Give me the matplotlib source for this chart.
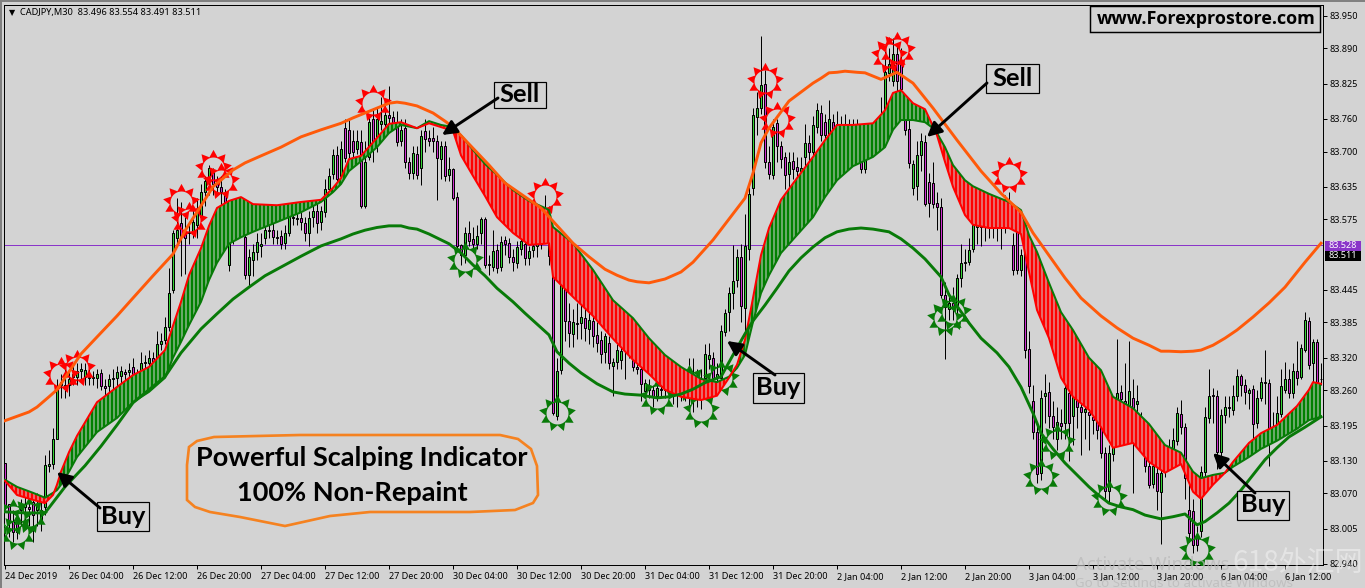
import matplotlib
matplotlib.use('Agg')
import matplotlib.pyplot as plt
import numpy as np
from matplotlib.markers import MarkerStyle
from matplotlib.patches import Polygon, Rectangle
from matplotlib.path import Path

W, H, DPI = 1365, 588, 96
PANEL = '#d3d3d3'

# 30 minute candles, one row per 8 hours
opens = [
    83.126,83.05,83.02,83.02,83.04,83.045,83.045,83.055,83.04,83.015,83.045,83.12,83.125,83.17,83.27,83.27,
    83.27,83.285,83.285,83.295,83.285,83.285,83.282,83.283,83.291,83.267,83.268,83.28,83.283,83.287,83.293,83.293,
    83.303,83.285,83.294,83.31,83.31,83.32,83.315,83.345,83.352,83.376,83.445,83.54,83.568,83.55,83.55,83.552,
    83.565,83.58,83.625,83.645,83.662,83.64,83.635,83.62,83.49,83.545,83.56,83.575,83.542,83.472,83.50,83.515,
    83.525,83.54,83.553,83.556,83.543,83.545,83.532,83.55,83.58,83.578,83.578,83.568,83.55,83.58,83.59,83.57,
    83.588,83.63,83.658,83.693,83.655,83.743,83.74,83.72,83.705,83.717,83.60,83.69,83.76,83.715,83.75,83.75,
    83.768,83.763,83.755,83.72,83.743,83.68,83.66,83.696,83.67,83.737,83.725,83.725,83.72,83.686,83.71,83.657,
    83.667,83.617,83.528,83.51,83.55,83.538,83.53,83.55,83.575,83.493,83.488,83.518,83.488,83.537,83.532,83.505,
    83.494,83.52,83.53,83.503,83.518,83.525,83.53,83.56,83.53,83.505,83.213,83.298,83.463,83.387,83.364,83.384,
    83.384,83.394,83.373,83.387,83.362,83.353,83.33,83.347,83.305,83.313,83.316,83.335,83.335,83.32,83.303,83.30,
    83.258,83.265,83.26,83.25,83.262,83.26,83.262,83.255,83.26,83.27,83.262,83.25,83.255,83.27,83.275,83.282,
    83.317,83.32,83.283,83.282,83.368,83.405,83.44,83.463,83.506,83.411,83.52,83.632,83.763,83.78,83.825,83.68,
    83.657,83.752,83.71,83.689,83.658,83.682,83.672,83.665,83.69,83.715,83.70,83.746,83.771,83.755,83.733,83.755,
    83.74,83.75,83.745,83.75,83.74,83.745,83.71,83.668,83.72,83.73,83.735,83.73,83.764,83.845,83.83,83.88,
    83.865,83.764,83.742,83.633,83.636,83.693,83.717,83.644,83.642,83.605,83.598,83.435,83.41,83.42,83.417,83.466,
    83.494,83.497,83.52,83.56,83.565,83.56,83.565,83.56,83.568,83.565,83.57,83.58,83.527,83.562,83.482,83.535,
    83.336,83.24,83.184,83.108,83.25,83.257,83.212,83.17,83.20,83.20,83.255,83.212,83.26,83.23,83.22,83.22,
    83.21,83.205,83.194,83.144,83.074,83.143,83.23,83.256,83.24,83.225,83.245,83.235,83.20,83.138,83.12,83.088,
    83.107,83.072,83.125,83.14,83.15,83.166,83.217,83.193,83.04,83.037,82.991,83.0,83.11,83.208,83.252,83.25,
    83.146,83.215,83.23,83.224,83.25,83.287,83.27,83.255,83.262,83.20,83.246,83.275,83.273,83.19,83.19,83.217,
    83.261,83.28,83.255,83.296,83.285,83.335,83.387,83.31,83.349,83.28,
]
highs = [
    83.126,83.05,83.04,83.03,83.06,83.07,83.06,83.07,83.07,83.06,83.14,83.15,83.19,83.28,83.29,83.30,
    83.30,83.31,83.31,83.31,83.31,83.30,83.295,83.30,83.30,83.28,83.29,83.30,83.305,83.305,83.30,83.31,
    83.32,83.30,83.33,83.325,83.335,83.33,83.37,83.365,83.395,83.485,83.555,83.615,83.607,83.58,83.57,83.60,
    83.615,83.64,83.655,83.675,83.67,83.655,83.655,83.63,83.56,83.59,83.59,83.59,83.56,83.52,83.53,83.55,
    83.55,83.57,83.57,83.57,83.555,83.555,83.565,83.60,83.595,83.59,83.595,83.58,83.59,83.605,83.61,83.60,
    83.65,83.67,83.705,83.71,83.72,83.76,83.76,83.74,83.74,83.74,83.72,83.77,83.78,83.78,83.80,83.79,
    83.82,83.775,83.775,83.76,83.76,83.69,83.71,83.71,83.74,83.76,83.74,83.745,83.73,83.72,83.72,83.69,
    83.67,83.625,83.53,83.56,83.572,83.56,83.565,83.58,83.58,83.51,83.555,83.53,83.545,83.545,83.54,83.52,
    83.535,83.55,83.54,83.525,83.54,83.57,83.58,83.62,83.60,83.51,83.32,83.48,83.475,83.42,83.41,83.42,
    83.42,83.425,83.41,83.41,83.385,83.37,83.365,83.36,83.32,83.345,83.345,83.35,83.345,83.33,83.32,83.31,
    83.28,83.28,83.27,83.275,83.275,83.27,83.275,83.27,83.30,83.29,83.295,83.32,83.32,83.30,83.30,83.345,
    83.347,83.33,83.31,83.38,83.41,83.45,83.527,83.52,83.53,83.584,83.635,83.78,83.81,83.912,83.85,83.71,
    83.76,83.76,83.72,83.70,83.70,83.70,83.69,83.69,83.75,83.73,83.765,83.79,83.785,83.77,83.795,83.77,
    83.775,83.765,83.77,83.76,83.76,83.76,83.73,83.73,83.745,83.75,83.755,83.80,83.89,83.89,83.91,83.90,
    83.89,83.80,83.76,83.685,83.72,83.735,83.73,83.66,83.68,83.625,83.615,83.46,83.44,83.45,83.475,83.53,
    83.52,83.54,83.58,83.58,83.58,83.575,83.58,83.58,83.585,83.585,83.62,83.625,83.55,83.58,83.52,83.54,
    83.37,83.27,83.20,83.26,83.29,83.275,83.24,83.23,83.225,83.28,83.28,83.27,83.27,83.25,83.24,83.24,
    83.24,83.235,83.21,83.155,83.16,83.20,83.355,83.27,83.31,83.35,83.28,83.27,83.22,83.16,83.13,83.14,
    83.13,83.12,83.16,83.17,83.19,83.23,83.242,83.20,83.10,83.06,83.01,83.12,83.23,83.30,83.265,83.26,
    83.225,83.25,83.25,83.27,83.30,83.29,83.28,83.265,83.27,83.26,83.285,83.335,83.28,83.22,83.25,83.30,
    83.313,83.30,83.31,83.35,83.345,83.405,83.395,83.355,83.355,83.31,
]
lows = [
    83.04,82.99,82.98,82.985,83.01,83.02,83.01,82.98,83.01,83.0,83.03,83.11,83.115,83.17,83.245,83.245,
    83.25,83.27,83.27,83.28,83.27,83.27,83.27,83.265,83.26,83.25,83.255,83.26,83.265,83.27,83.275,83.28,
    83.27,83.26,83.28,83.295,83.295,83.30,83.30,83.335,83.345,83.37,83.44,83.53,83.47,83.475,83.53,83.54,
    83.54,83.575,83.60,83.62,83.62,83.62,83.60,83.58,83.48,83.53,83.55,83.55,83.465,83.45,83.47,83.50,
    83.505,83.53,83.54,83.53,83.53,83.52,83.52,83.545,83.565,83.565,83.555,83.535,83.525,83.56,83.55,83.555,
    83.58,83.62,83.65,83.64,83.645,83.68,83.685,83.69,83.695,83.595,83.595,83.685,83.68,83.70,83.74,83.74,
    83.75,83.74,83.71,83.71,83.67,83.65,83.65,83.65,83.638,83.70,83.71,83.70,83.61,83.65,83.645,83.645,
    83.61,83.52,83.49,83.495,83.525,83.515,83.52,83.53,83.485,83.472,83.48,83.477,83.48,83.51,83.495,83.48,
    83.485,83.51,83.49,83.49,83.505,83.505,83.52,83.55,83.49,83.215,83.205,83.29,83.35,83.34,83.34,83.355,
    83.355,83.35,83.345,83.34,83.33,83.31,83.31,83.30,83.25,83.30,83.30,83.28,83.32,83.295,83.29,83.24,
    83.25,83.245,83.23,83.24,83.25,83.245,83.25,83.235,83.23,83.24,83.24,83.23,83.22,83.23,83.225,83.28,
    83.30,83.27,83.27,83.275,83.36,83.37,83.41,83.45,83.385,83.36,83.50,83.62,83.73,83.77,83.67,83.65,
    83.65,83.68,83.67,83.63,83.62,83.65,83.655,83.65,83.665,83.68,83.69,83.735,83.72,83.70,83.72,83.72,
    83.725,83.73,83.72,83.72,83.70,83.68,83.66,83.66,83.71,83.72,83.72,83.71,83.755,83.83,83.82,83.81,
    83.79,83.73,83.67,83.62,83.61,83.665,83.60,83.58,83.595,83.555,83.43,83.317,83.39,83.39,83.40,83.45,
    83.48,83.49,83.515,83.53,83.525,83.535,83.54,83.54,83.535,83.52,83.55,83.56,83.472,83.475,83.47,83.32,
    83.255,83.17,83.09,83.095,83.20,83.19,83.17,83.15,83.17,83.17,83.13,83.16,83.19,83.14,83.17,83.15,
    83.18,83.17,83.135,83.06,83.055,83.13,83.215,83.22,83.21,83.21,83.07,83.21,83.17,83.11,83.08,83.08,
    83.04,82.976,83.10,83.12,83.13,83.16,83.18,83.06,82.98,82.96,82.963,82.99,83.10,83.20,83.20,83.115,
    83.12,83.20,83.21,83.215,83.24,83.25,83.235,83.225,83.17,83.19,83.24,83.235,83.12,83.17,83.18,83.21,
    83.255,83.245,83.245,83.27,83.28,83.33,83.30,83.27,83.27,83.27,
]
closes = [
    83.049,83.017,82.999,82.998,83.045,83.05,83.042,83.03,83.05,83.04,83.122,83.125,83.17,83.265,83.275,83.265,
    83.28,83.29,83.295,83.30,83.298,83.283,83.284,83.29,83.267,83.265,83.28,83.283,83.293,83.295,83.29,83.298,
    83.288,83.287,83.31,83.312,83.32,83.31,83.345,83.35,83.376,83.44,83.55,83.555,83.545,83.54,83.552,83.57,
    83.59,83.625,83.645,83.67,83.64,83.635,83.625,83.605,83.545,83.56,83.575,83.57,83.472,83.505,83.515,83.533,
    83.53,83.555,83.555,83.543,83.541,83.53,83.55,83.583,83.578,83.575,83.57,83.55,83.578,83.59,83.568,83.59,
    83.63,83.655,83.693,83.65,83.705,83.688,83.697,83.70,83.72,83.60,83.68,83.755,83.71,83.76,83.757,83.767,
    83.762,83.752,83.718,83.74,83.68,83.66,83.698,83.657,83.728,83.723,83.72,83.72,83.688,83.71,83.654,83.667,
    83.614,83.525,83.51,83.55,83.536,83.53,83.545,83.575,83.491,83.49,83.517,83.485,83.534,83.53,83.505,83.496,
    83.524,83.536,83.503,83.517,83.526,83.53,83.56,83.58,83.507,83.218,83.295,83.467,83.387,83.365,83.386,83.383,
    83.395,83.375,83.389,83.36,83.347,83.327,83.36,83.31,83.313,83.335,83.332,83.335,83.33,83.303,83.30,83.272,
    83.273,83.26,83.25,83.264,83.26,83.262,83.265,83.26,83.27,83.265,83.255,83.26,83.27,83.275,83.27,83.327,
    83.325,83.282,83.29,83.37,83.403,83.44,83.462,83.506,83.415,83.526,83.622,83.768,83.781,83.823,83.68,83.658,
    83.745,83.71,83.687,83.656,83.68,83.668,83.665,83.67,83.716,83.70,83.748,83.777,83.73,83.73,83.76,83.735,
    83.75,83.745,83.75,83.74,83.745,83.72,83.668,83.72,83.73,83.735,83.74,83.76,83.847,83.862,83.88,83.83,
    83.816,83.74,83.678,83.677,83.693,83.72,83.604,83.606,83.604,83.598,83.435,83.414,83.42,83.415,83.466,83.494,
    83.496,83.518,83.565,83.57,83.56,83.565,83.56,83.568,83.565,83.57,83.58,83.585,83.482,83.482,83.51,83.335,
    83.267,83.184,83.106,83.246,83.255,83.212,83.193,83.202,83.195,83.264,83.20,83.25,83.23,83.22,83.225,83.215,
    83.205,83.187,83.144,83.074,83.144,83.165,83.255,83.243,83.235,83.258,83.165,83.24,83.19,83.12,83.086,83.12,
    83.074,83.107,83.14,83.145,83.169,83.218,83.193,83.098,82.997,82.974,82.975,83.11,83.21,83.249,83.25,83.146,
    83.215,83.229,83.228,83.25,83.287,83.269,83.256,83.26,83.198,83.246,83.276,83.273,83.187,83.185,83.218,83.267,
    83.28,83.255,83.295,83.282,83.338,83.39,83.307,83.349,83.276,83.28,
]

# slow envelope lines
upper_bars = [0,6,8,11,13,16,19,24,28,32,37,42,45,49,52,57,60,64,69,74,79,84,87,90,93,96,98,100,103,107,110,112,117,121,125,134,142,146,150,153,156,158,161,165,169,172,177,185,187,189,191,196,200,202,204,206,208,210,213,215,217,219,223,227,232,238,244,249,254,257,265,269,274,278,282,286,289,291,294,297,299,302,305,308,312,316,320,325,329]
upper_band = [83.204,83.22,83.229,83.248,83.261,83.294,83.327,83.366,83.397,83.43,83.471,83.511,83.554,83.60,83.635,83.666,83.679,83.692,83.708,83.727,83.74,83.752,83.762,83.771,83.78,83.789,83.791,83.789,83.784,83.771,83.756,83.745,83.706,83.675,83.642,83.596,83.531,83.506,83.483,83.472,83.463,83.46,83.458,83.465,83.478,83.496,83.537,83.614,83.66,83.716,83.743,83.793,83.815,83.826,83.835,83.845,83.846,83.848,83.846,83.845,83.839,83.833,83.846,83.826,83.78,83.721,83.664,83.623,83.588,83.55,83.467,83.43,83.397,83.375,83.356,83.343,83.332,83.332,83.331,83.332,83.334,83.343,83.356,83.371,83.395,83.421,83.45,83.496,83.531]
lower_bars = [0,5,10,15,20,24,28,32,36,40,44,49,53,57,61,65,70,74,79,84,87,90,93,96,99,101,103,106,111,114,117,120,123,127,130,133,136,138,141,144,148,152,155,159,163,166,169,172,175,179,182,185,187,190,193,196,199,202,205,208,211,214,217,221,224,227,230,234,236,241,244,248,251,254,257,259,262,265,268,271,273,276,279,282,285,289,292,295,298,300,303,306,309,312,315,318,321,325,329]
lower_band = [83.036,83.034,83.034,83.082,83.121,83.157,83.196,83.237,83.261,83.285,83.329,83.373,83.401,83.428,83.45,83.471,83.491,83.507,83.526,83.539,83.548,83.555,83.56,83.563,83.563,83.559,83.557,83.548,83.53,83.513,83.491,83.471,83.448,83.423,83.402,83.382,83.362,83.331,83.31,83.292,83.272,83.257,83.253,83.251,83.246,83.248,83.253,83.262,83.274,83.285,83.325,83.364,83.388,83.417,83.448,83.48,83.504,83.524,83.541,83.552,83.557,83.559,83.557,83.552,83.539,83.522,83.502,83.469,83.436,83.384,83.356,83.329,83.303,83.266,83.218,83.181,83.152,83.126,83.104,83.082,83.069,83.052,83.045,83.04,83.03,83.023,83.027,83.032,83.012,83.018,83.034,83.052,83.076,83.104,83.132,83.154,83.174,83.192,83.211]

# ribbon: red edge and green edge
ribbon_bars = [0,3,7,10,12,13,14,16,18,23,28,32,36,40,42,44,46,49,51,53,56,59,62,68,74,79,82,84,86,89,93,96,99,103,106,109,112,114,117,120,123,127,131,135,136,137,142,147,152,157,161,165,169,174,178,181,183,185,187,189,191,194,198,202,205,208,212,217,220,222,224,227,230,232,233,235,237,240,242,246,251,254,256,258,261,264,267,271,274,277,282,286,290,294,297,299,302,305,307,311,314,318,323,326,327,329]
ribbon_red = [83.093,83.067,83.058,83.052,83.067,83.086,83.110,83.146,83.176,83.238,83.266,83.288,83.303,83.334,83.379,83.423,83.472,83.522,83.563,83.596,83.609,83.616,83.603,83.601,83.607,83.611,83.633,83.651,83.686,83.692,83.725,83.751,83.754,83.743,83.752,83.745,83.738,83.693,83.655,83.618,83.579,83.550,83.528,83.530,83.531,83.469,83.432,83.397,83.355,83.316,83.290,83.261,83.248,83.242,83.250,83.283,83.307,83.353,83.430,83.509,83.559,83.611,83.651,83.690,83.721,83.749,83.749,83.752,83.776,83.808,83.813,83.789,83.778,83.747,83.730,83.681,83.635,83.583,83.565,83.559,83.559,83.548,83.478,83.408,83.356,83.283,83.248,83.224,83.192,83.154,83.163,83.128,83.108,83.124,83.073,83.060,83.086,83.108,83.128,83.163,83.181,83.196,83.231,83.261,83.275,83.272]
ribbon_green = [83.095,83.082,83.071,83.062,83.071,83.076,83.086,83.110,83.137,83.183,83.209,83.238,83.257,83.283,83.320,83.349,83.380,83.423,83.463,83.495,83.530,83.542,83.552,83.570,83.588,83.607,83.625,83.640,83.664,83.682,83.708,83.734,83.749,83.743,83.756,83.749,83.745,83.730,83.703,83.677,83.657,83.629,83.609,83.596,83.592,83.561,83.531,83.482,83.426,83.393,83.356,83.325,83.303,83.281,83.275,83.285,83.301,83.325,83.386,83.439,83.472,83.513,83.546,83.579,83.616,83.647,83.673,83.690,83.708,83.740,83.758,83.758,83.754,83.743,83.734,83.708,83.675,83.647,83.636,83.622,83.607,83.592,83.546,83.515,83.458,83.404,83.371,83.320,83.297,83.248,83.227,83.198,83.159,83.145,83.110,83.098,83.104,83.108,83.119,83.137,83.152,83.167,83.189,83.205,83.207,83.211]

# arrow signals
sell_bars = [14,18,44,46,52,54,92,135,190,193,221,223,251]
sell_prices = [83.288,83.301,83.607,83.574,83.670,83.646,83.789,83.618,83.830,83.758,83.878,83.887,83.657]
buy_bars = [3,2,6,115,138,163,174,179,171,235,237,259,263,276,298]
buy_prices = [82.999,83.027,83.030,83.500,83.218,83.248,83.224,83.283,83.274,83.393,83.404,83.100,83.165,83.062,82.966]

tick_bars = list(range(0, 321, 16))
time_labels = ['24 Dec 2019','26 Dec 04:00','26 Dec 12:00','26 Dec 20:00','27 Dec 04:00','27 Dec 12:00','27 Dec 20:00',
               '30 Dec 04:00','30 Dec 12:00','30 Dec 20:00','31 Dec 04:00','31 Dec 12:00','31 Dec 20:00','2 Jan 04:00',
               '2 Jan 12:00','2 Jan 20:00','3 Jan 04:00','3 Jan 12:00','3 Jan 20:00','6 Jan 04:00','6 Jan 12:00']
price_ticks = [83.950,83.890,83.825,83.760,83.700,83.635,83.575,83.445,83.385,83.320,83.260,83.195,83.130,83.070,83.005,82.940]

plt.rcParams['font.family'] = ['Noto Sans', 'DejaVu Sans']
plt.rcParams['hatch.linewidth'] = 0.75
plt.rcParams['hatch.color'] = PANEL


def sun_marker(spikes=9, inner=0.64, hole=0.59):
    # star outline with a round hole so the candles show through
    star = Path.unit_regular_star(spikes, innerCircle=inner)
    t = np.linspace(2 * np.pi, 0, 41)
    ring = np.column_stack([hole * np.cos(t), hole * np.sin(t)])
    verts = np.vstack([star.vertices, ring])
    codes = [Path.MOVETO] + [Path.LINETO] * (len(star.vertices) - 2) + [Path.CLOSEPOLY]
    codes += [Path.MOVETO] + [Path.LINETO] * 39 + [Path.CLOSEPOLY]
    return MarkerStyle(Path(verts, codes))


fig = plt.figure(figsize=(W / DPI, H / DPI), dpi=DPI, facecolor=PANEL)
ax = fig.add_axes([4 / W, 1 - 565 / H, (1323 - 4) / W, (565 - 5) / H], facecolor=PANEL)
ax.set_xlim(-0.25, 329.5)
ax.set_ylim(82.938, 83.970)

o = np.array(opens)
c = np.array(closes)
bars = np.arange(len(o))

ax.axhline(83.528, color='#8a35c9', lw=0.75, zorder=1)
ax.vlines(bars, lows, highs, color='black', lw=0.75, zorder=2)
up = c >= o
ax.bar(bars[up], (c - o)[up], bottom=o[up], width=0.5, color='#35d435', edgecolor='black', lw=0.75, zorder=2.1)
ax.bar(bars[~up], (o - c)[~up], bottom=c[~up], width=0.5, color='#d030d0', edgecolor='black', lw=0.75, zorder=2.1)

ax.scatter(sell_bars, sell_prices, marker=sun_marker(), s=780, c='#ff0000', lw=0, zorder=3)
ax.scatter(buy_bars, buy_prices, marker=sun_marker(), s=780, c='#087a08', lw=0, zorder=3)

r = np.array(ribbon_red)
g = np.array(ribbon_green)
ax.fill_between(ribbon_bars, r, g, where=r >= g, interpolate=True, facecolor='#008000', hatch='||||', lw=0, zorder=4)
ax.fill_between(ribbon_bars, r, g, where=r <= g, interpolate=True, facecolor='#ff0000', hatch='||||', lw=0, zorder=4)
ax.plot(ribbon_bars, ribbon_green, color='#087a08', lw=1.5, zorder=5)
ax.plot(ribbon_bars, ribbon_red, color='#ff0000', lw=1.5, zorder=5.1)
ax.plot(lower_bars, lower_band, color='#087a08', lw=2.2, zorder=5.2)
ax.plot(upper_bars, upper_band, color='#ff5a0a', lw=2.2, zorder=5.3)

ax.set_xticks(tick_bars)
ax.set_xticklabels(time_labels, fontsize=6.8, ha='left')
ax.yaxis.tick_right()
ax.set_yticks(price_ticks)
ax.set_yticklabels([f'{p:.3f}' for p in price_ticks], fontsize=6.8)
ax.tick_params(axis='both', length=3, width=0.75, pad=2)
for s in ax.spines.values():
    s.set_linewidth(0.75)
    s.set_color('black')

# overlay in picture pixels for the hand drawn notes
ov = fig.add_axes([0, 0, 1, 1], facecolor='none', zorder=10)
ov.set_xlim(0, W)
ov.set_ylim(H, 0)
ov.axis('off')

ov.add_patch(Rectangle((0, 0), W, 2, color='#808080', lw=0))
ov.add_patch(Rectangle((0, 0), 2, H, color='#808080', lw=0))

ov.text(12, 13, '▼', fontsize=6, family='DejaVu Sans', ha='center', va='center')
ov.text(20, 13, 'CADJPY,M30  83.496 83.554 83.491 83.511', fontsize=6.9, va='center')

ov.add_patch(Rectangle((1325, 241), 36, 9.5, color='#8a35c9', lw=0))
ov.text(1343, 245.5, '83.528', fontsize=6.8, color='white', ha='center', va='center')
ov.add_patch(Rectangle((1325, 251), 36, 9.5, color='black', lw=0))
ov.text(1343, 255.5, '83.511', fontsize=6.8, color='white', ha='center', va='center')

ov.text(1206, 19, 'www.Forexprostore.com', fontsize=13.5, fontweight='bold', family='Open Sans', ha='center', va='center')
ov.add_patch(Rectangle((1090, 6), 230, 26, fill=False, edgecolor='black', lw=1.1))

callouts = [('Sell', 494, 82, 52, 26, (498, 98), (442, 135)),
            ('Sell', 986, 64, 53, 29, (987, 83), (927, 137)),
            ('Buy', 97, 502, 52, 29, (100, 508), (57, 472)),
            ('Buy', 753, 373, 51, 30, (775, 375), (727, 341)),
            ('Buy', 1237, 491, 52, 29, (1255, 493), (1213, 453))]
for label, bx, by, bw, bh, start, tip in callouts:
    ov.annotate('', xy=tip, xytext=start,
                arrowprops=dict(arrowstyle='-|>,head_length=0.9,head_width=0.45', color='black', lw=2.2,
                                shrinkA=0, shrinkB=0))
    ov.add_patch(Rectangle((bx, by), bw, bh, facecolor=PANEL, edgecolor='black', lw=0.9))
    ov.text(bx + bw / 2, by + bh / 2 - 0.5, label, fontsize=19, fontweight='bold', family='Lato', ha='center', va='center')

bubble = [(187, 500), (187, 465), (189, 447), (197, 441), (214, 437), (300, 435), (500, 435), (518, 439), (531, 449),
          (537, 466), (538, 495), (533, 503), (515, 510), (470, 512), (370, 512), (330, 516), (285, 526), (240, 517),
          (210, 512), (195, 507)]
ov.add_patch(Polygon(bubble, closed=True, fill=False, edgecolor='#f58220', lw=2))
ov.text(362, 458, 'Powerful Scalping Indicator', fontsize=20.3, fontweight='bold', family='Lato', ha='center', va='center')
ov.text(352, 493, '100% Non-Repaint', fontsize=20.3, fontweight='bold', family='Lato', ha='center', va='center')

# screen capture leftovers
ov.text(1075, 565, 'Activate Windows', fontsize=14, color='#b8b8b8', alpha=0.7, va='center', clip_on=False)
ov.text(1075, 584, 'Go to Settings to activate Windows', fontsize=10, color='#b8b8b8', alpha=0.7, va='center', clip_on=False)
ov.text(1232, 563, '618外汇网', fontsize=21, color='white', alpha=0.4, va='center',
        family=['Noto Sans CJK SC', 'DejaVu Sans'])

fig.savefig('out.png', dpi=DPI, facecolor=PANEL)
